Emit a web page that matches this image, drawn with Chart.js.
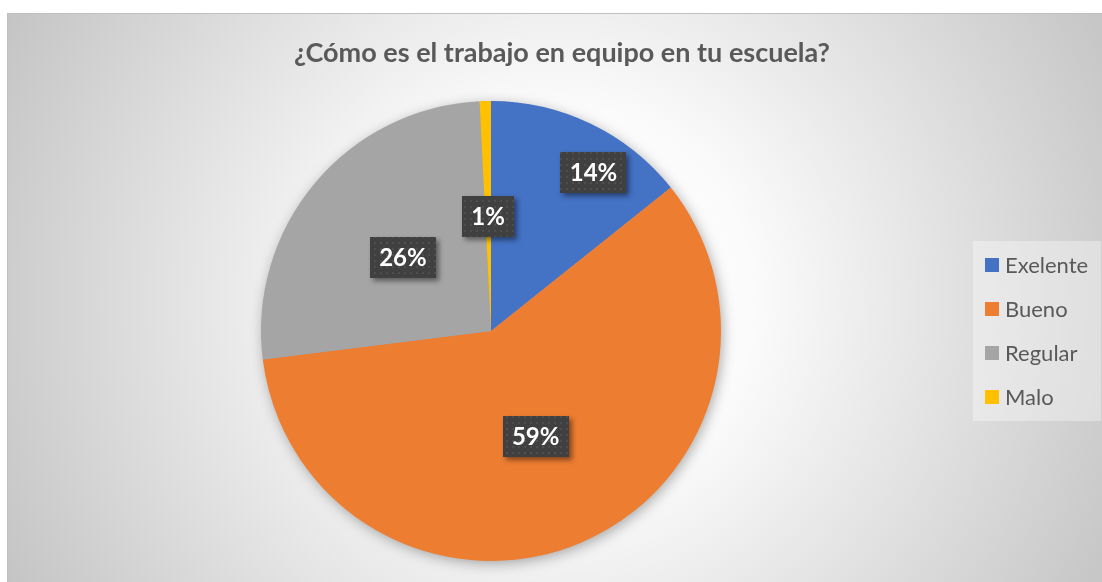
<!DOCTYPE html>
<html>
<head>
<meta charset="utf-8">
<script src="https://cdn.jsdelivr.net/npm/chart.js@4.4.1/dist/chart.umd.min.js"></script>
<style>
  html, body { margin: 0; padding: 0; background: #ffffff; }
  #wrap { position: absolute; left: 0; top: 0; width: 1102px; height: 582px; }
</style>
</head>
<body>
<div id="wrap"><canvas id="pieChart" width="1102" height="582"></canvas></div>
<script>
// Datos
const chartTitle = '¿Cómo es el trabajo en equipo en tu escuela?';
const categories = ['Exelente', 'Bueno', 'Regular', 'Malo'];
const responses = [18, 74, 33, 1];
const sliceColors = ['#4472C4', '#ED7D31', '#A5A5A5', '#FFC000'];

// Ubicación de las etiquetas (fracción del radio y del ángulo de cada porción)
const labelRadius = [0.82, 0.5, 0.5, 0.5];
const labelAngle = [0.64, 0.5, 0.5, 0.5];

const textGray = '#595959';

// Patrón punteado para las cajas de las etiquetas
function makeDots() {
    const c = document.createElement('canvas');
    c.width = 6; c.height = 6;
    const g = c.getContext('2d');
    g.fillStyle = '#404040';
    g.fillRect(0, 0, 6, 6);
    g.fillStyle = '#4e4e4e';
    g.fillRect(2, 2, 2, 2);
    return c;
}

const fondo = {
    id: 'fondo',
    beforeDraw(chart) {
        const ctx = chart.ctx;
        const w = chart.width, h = chart.height;
        ctx.save();
        ctx.fillStyle = '#ffffff';
        ctx.fillRect(0, 0, w, h);
        const x0 = 7, y0 = 13;
        const grad = ctx.createRadialGradient(560, 300, 0, 560, 300, 640);
        grad.addColorStop(0, '#ffffff');
        grad.addColorStop(0.3, '#fbfbfb');
        grad.addColorStop(1, '#c2c2c2');
        ctx.fillStyle = grad;
        ctx.fillRect(x0, y0, w - x0, h - y0);
        ctx.strokeStyle = '#c0c0c0';
        ctx.lineWidth = 1;
        ctx.strokeRect(x0 + 0.5, y0 + 0.5, w - x0, h - y0);

        // Título
        ctx.fillStyle = textGray;
        ctx.font = 'bold 27px Lato';
        ctx.textAlign = 'center';
        ctx.textBaseline = 'middle';
        ctx.fillText(chartTitle, 562, 53);
        ctx.restore();
    },
    beforeDatasetsDraw(chart) {
        // sombra del pastel
        const arc = chart.getDatasetMeta(0).data[0];
        const ctx = chart.ctx;
        ctx.save();
        ctx.shadowColor = 'rgba(0,0,0,0.35)';
        ctx.shadowBlur = 14;
        ctx.shadowOffsetX = 2;
        ctx.shadowOffsetY = 3;
        ctx.fillStyle = '#a0a0a0';
        ctx.beginPath();
        ctx.arc(arc.x, arc.y, arc.outerRadius - 1, 0, Math.PI * 2);
        ctx.fill();
        ctx.restore();
    },
    afterDatasetsDraw(chart) {
        const ctx = chart.ctx;
        const meta = chart.getDatasetMeta(0);
        const data = chart.data.datasets[0].data;
        const total = data.reduce((a, b) => a + b, 0);
        const pattern = ctx.createPattern(makeDots(), 'repeat');

        ctx.save();
        ctx.font = 'bold 24px Lato';
        meta.data.forEach((arc, i) => {
            const ang = arc.startAngle + (arc.endAngle - arc.startAngle) * labelAngle[i];
            const r = arc.outerRadius * labelRadius[i];
            const cx = arc.x + Math.cos(ang) * r;
            const cy = arc.y + Math.sin(ang) * r;
            const txt = Math.round(data[i] / total * 100) + '%';
            const tw = ctx.measureText(txt).width;
            const bw = Math.round(tw + 18), bh = 41;
            const bx = Math.round(cx - bw / 2), by = Math.round(cy - bh / 2);

            ctx.save();
            ctx.shadowColor = 'rgba(0,0,0,0.45)';
            ctx.shadowBlur = 5;
            ctx.shadowOffsetX = 3;
            ctx.shadowOffsetY = 3;
            ctx.fillStyle = '#404040';
            ctx.fillRect(bx, by, bw, bh);
            ctx.restore();
            ctx.fillStyle = pattern;
            ctx.fillRect(bx, by, bw, bh);

            ctx.fillStyle = '#ffffff';
            ctx.textAlign = 'center';
            ctx.textBaseline = 'middle';
            ctx.fillText(txt, cx, by + bh / 2 + 1);
        });
        ctx.restore();
    },
    afterDraw(chart) {
        // Leyenda a la derecha
        const ctx = chart.ctx;
        const area = chart.chartArea;
        const midY = (area.top + area.bottom) / 2;
        const colors = chart.data.datasets[0].backgroundColor;
        const step = 44;
        const n = chart.data.labels.length;
        ctx.save();
        ctx.fillStyle = 'rgba(255,255,255,0.35)';
        ctx.fillRect(973, midY - 90, 128, 180);
        ctx.font = '22px Lato';
        ctx.textAlign = 'left';
        ctx.textBaseline = 'middle';
        chart.data.labels.forEach((lab, i) => {
            const y = midY + (i - (n - 1) / 2) * step;
            ctx.fillStyle = colors[i];
            ctx.fillRect(985, Math.round(y - 7), 14, 14);
            ctx.fillStyle = textGray;
            ctx.fillText(lab, 1005, y + 1);
        });
        ctx.restore();
    }
};

new Chart(document.getElementById('pieChart'), {
    type: 'pie',
    data: {
        labels: categories,
        datasets: [{
            data: responses,
            backgroundColor: sliceColors,
            borderWidth: 0
        }]
    },
    options: {
        responsive: false,
        animation: false,
        layout: {
            padding: { left: 261, right: 381, top: 101, bottom: 21 }
        },
        plugins: {
            legend: { display: false },
            title: { display: false },
            tooltip: { enabled: false }
        }
    },
    plugins: [fondo]
});
</script>
</body>
</html>
